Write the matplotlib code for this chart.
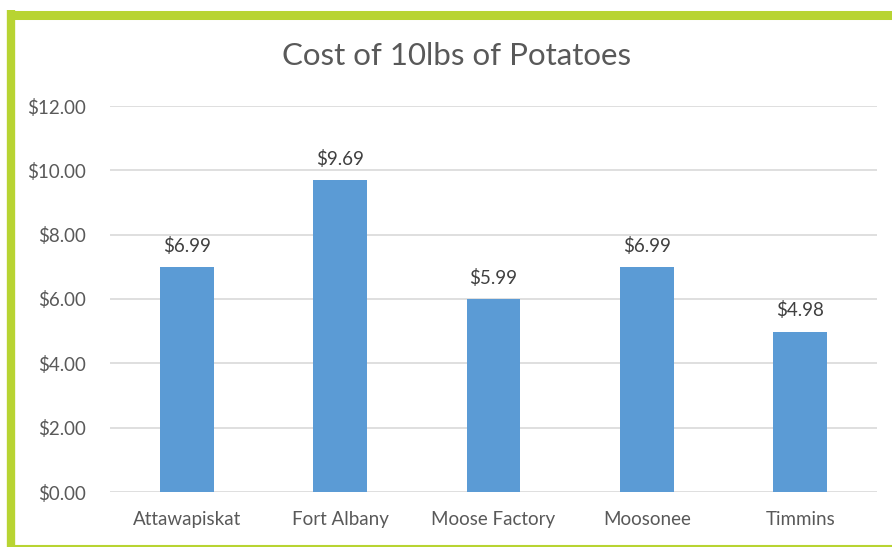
import matplotlib.pyplot as plt
from matplotlib.lines import Line2D

towns = ["Attawapiskat", "Fort Albany", "Moose Factory", "Moosonee", "Timmins"]
prices = [6.99, 9.69, 5.99, 6.99, 4.98]
yticks = [0, 2, 4, 6, 8, 10, 12]

plt.rcParams['font.family'] = ['Lato', 'DejaVu Sans']

fig = plt.figure(figsize=(8.92, 5.47), dpi=100)
ax = fig.add_axes([110 / 892, 1 - 492 / 547, 767 / 892, 386 / 547])

bars = ax.bar(towns, prices, width=0.35, color="#5B9BD5", zorder=3)
ax.set_ylim(0, 12)
ax.set_xlim(-0.5, len(towns) - 0.5)
ax.set_yticks(yticks)
ax.set_yticklabels([f"${v:.2f}" for v in yticks])
ax.grid(axis="y", color="#D9D9D9", linewidth=1.2, zorder=0)
for s in ax.spines.values():
    s.set_visible(False)
ax.tick_params(length=0, colors="#595959", labelsize=13.5)
ax.tick_params(axis="y", pad=17)
ax.tick_params(axis="x", pad=14)

for b, v in zip(bars, prices):
    ax.annotate(f"${v:.2f}", (b.get_x() + b.get_width() / 2, v),
                xytext=(0, 9), textcoords="offset points",
                ha="center", va="bottom", fontsize=13.5, color="#404040")

fig.text(0.512, 1 - 56 / 547, "Cost of 10lbs of Potatoes", ha="center", va="center",
         fontsize=22.5, color="#595959")

# green frame
green = "#B8D432"
fig.add_artist(Line2D([11 / 892, 11 / 892], [0, 1 - 10 / 547], color=green,
                      linewidth=6, transform=fig.transFigure, solid_capstyle="butt"))
fig.add_artist(Line2D([7 / 892, 1], [1 - 14.5 / 547, 1 - 14.5 / 547], color=green,
                      linewidth=6.5, transform=fig.transFigure, solid_capstyle="butt"))
fig.add_artist(Line2D([7 / 892, 1], [1 - 546 / 547, 1 - 546 / 547], color=green,
                      linewidth=1.5, transform=fig.transFigure, solid_capstyle="butt"))

fig.savefig("out.png", dpi=100)
